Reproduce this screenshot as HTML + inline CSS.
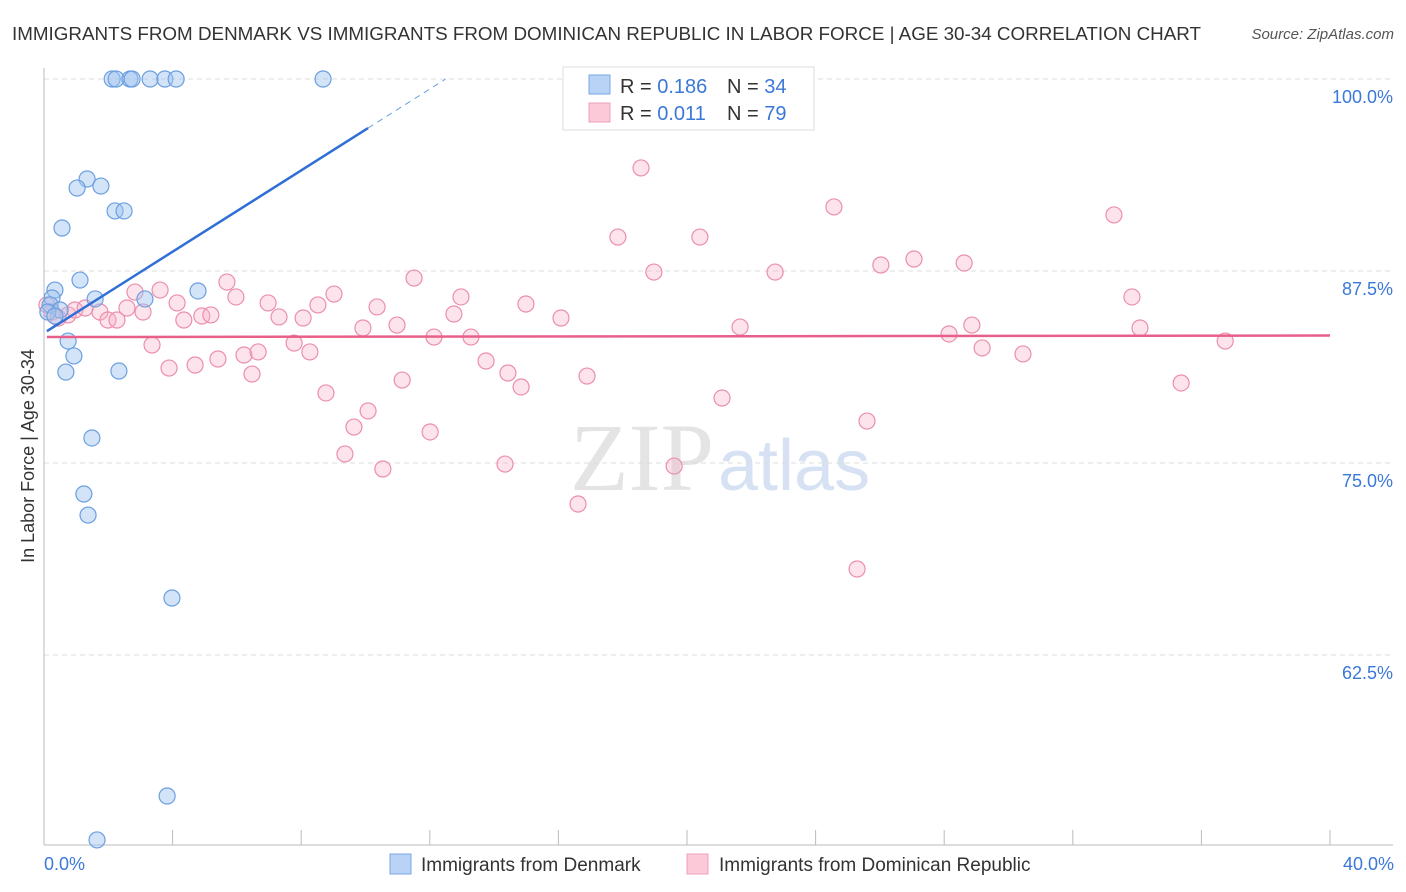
<!DOCTYPE html>
<html><head><meta charset="utf-8"><style>
body{margin:0;background:#fff;font-family:"Liberation Sans",sans-serif;}
svg{display:block}
</style></head><body>
<svg width="1406" height="892" xmlns="http://www.w3.org/2000/svg" id="chart">
<text x="12" y="40" font-size="18" fill="#333" textLength="1189" lengthAdjust="spacingAndGlyphs">IMMIGRANTS FROM DENMARK VS IMMIGRANTS FROM DOMINICAN REPUBLIC IN LABOR FORCE | AGE 30-34 CORRELATION CHART</text>
<text x="1394" y="39" font-size="15" fill="#555" font-style="italic" text-anchor="end">Source: ZipAtlas.com</text>
<text x="714" y="490" font-size="96" fill="#e4e4e4" text-anchor="end" font-family="Liberation Serif,serif">ZIP</text>
<text x="718" y="490" font-size="72" fill="#d6e2f3">atlas</text>
<g id="grid"></g><g id="axes"></g><g id="pts"></g><g id="trend"></g>
<text transform="translate(34,456) rotate(-90)" font-size="18" fill="#333" text-anchor="middle">In Labor Force | Age 30-34</text>
<text x="44" y="870" font-size="18" fill="#3b78d8">0.0%</text>
<text x="1394" y="870" font-size="18" fill="#3b78d8" text-anchor="end">40.0%</text>
<g>
<rect x="563" y="67" width="251" height="63" fill="#fff" stroke="#ddd"/>
<rect x="589" y="75" width="21" height="19" fill="#b8d3f5" stroke="#7aa8e6"/>
<rect x="589" y="103" width="21" height="19" fill="#fcc9d8" stroke="#eea0b8"/>
<text x="620" y="93" font-size="20" fill="#333">R = <tspan fill="#3b78d8">0.186</tspan></text>
<text x="727" y="93" font-size="20" fill="#333">N = <tspan fill="#3b78d8">34</tspan></text>
<text x="620" y="120" font-size="20" fill="#333">R = <tspan fill="#3b78d8">0.011</tspan></text>
<text x="727" y="120" font-size="20" fill="#333">N = <tspan fill="#3b78d8">79</tspan></text>
</g>
<g>
<rect x="390" y="854" width="21" height="20" fill="#b8d3f5" stroke="#7aa8e6"/>
<text x="421" y="871" font-size="19" fill="#333">Immigrants from Denmark</text>
<rect x="687" y="854" width="21" height="20" fill="#fcc9d8" stroke="#eea0b8"/>
<text x="719" y="871" font-size="19" fill="#333">Immigrants from Dominican Republic</text>
</g>
</svg>
<script>
const yTicks=[100,87.5,75,62.5];
const yTickLabels=["100.0%","87.5%","75.0%","62.5%"];
const blueX=[2.12,2.24,2.67,2.74,3.30,3.76,4.11,8.68,1.34,1.03,1.77,2.21,2.49,0.56,1.12,0.34,0.25,1.59,3.14,4.79,0.19,0.50,0.12,0.75,0.93,0.68,2.33,1.49,1.24,1.37,3.98,3.83,1.65,0.34];
const blueY=[100,100,100,100,100,100,100,100,93.49,92.9,93.03,91.41,91.41,90.3,86.91,86.26,85.74,85.68,85.68,86.2,85.29,84.96,84.83,82.94,81.97,80.92,80.99,76.63,72.98,71.61,66.21,53.32,50.46,84.57];
const pinkX=[0.09,0.25,0.44,0.75,0.96,1.28,1.74,1.99,2.27,2.58,2.83,3.08,3.36,3.61,3.89,4.14,4.35,4.70,4.91,5.19,5.41,5.69,5.97,6.22,6.47,6.66,6.97,7.31,7.78,8.06,8.27,8.52,8.77,9.02,9.36,9.64,9.92,10.08,10.36,10.54,10.98,11.14,11.51,12.01,12.13,12.97,12.75,13.28,13.75,14.34,14.43,14.84,14.99,16.08,16.61,16.89,17.85,18.57,18.97,19.60,20.40,21.09,21.65,22.74,24.57,25.29,25.60,26.03,27.06,28.15,28.62,28.86,29.18,30.45,33.28,33.84,34.09,35.37,36.74];
const pinkY=[85.29,84.83,84.44,84.64,84.96,85.09,84.83,84.31,84.31,85.09,86.13,84.83,82.68,86.26,81.18,85.42,84.31,81.38,84.57,84.64,81.77,86.78,85.81,82.03,80.79,82.23,85.42,84.51,82.81,84.44,82.23,85.29,79.56,86.0,75.59,77.34,83.79,78.39,85.16,74.61,83.98,80.40,87.04,77.02,83.2,85.81,84.7,83.2,81.64,74.93,80.86,79.95,85.35,84.44,72.33,80.66,89.71,94.21,87.43,74.8,89.71,79.23,83.85,87.43,91.67,68.1,77.73,87.89,88.28,83.4,88.02,83.98,82.49,82.1,91.15,85.81,83.79,80.21,82.94];
const blueTrend=[83.46,1.324];
const pinkTrend=[83.2,0.0025];
const NS="http://www.w3.org/2000/svg";
const sx=v=>44+v*32.15, sy=v=>79+(100-v)*15.36;
function mk(t,a,p){const e=document.createElementNS(NS,t);for(const k in a)e.setAttribute(k,a[k]);p.appendChild(e);return e;}
const grid=document.getElementById('grid'),axes=document.getElementById('axes'),pts=document.getElementById('pts'),tr=document.getElementById('trend');
yTicks.forEach((t,i)=>{
 const l=mk('line',{x1:44,x2:1393,y1:sy(t),y2:sy(t),stroke:'#ddd','stroke-dasharray':'5,4'},grid);
 
 
 const tx=mk('text',{x:1393,y:sy(t)+24,'font-size':18,fill:'#3b78d8','text-anchor':'end'},grid);
 tx.textContent=yTickLabels[i];
 
 
});
let a=mk('line',{x1:44,x2:44,y1:68,y2:845,stroke:'#bbb'},axes);


a=mk('line',{x1:44,x2:1393,y1:845,y2:845,stroke:'#bbb'},axes);


for(let i=0;i<=10;i++){const t=mk('line',{x1:sx(i*4),x2:sx(i*4),y1:830,y2:845,stroke:'#bbb'},axes);
 
 }
pinkX.forEach((x,i)=>{const c=mk('circle',{cx:sx(x),cy:sy(pinkY[i]),r:8,fill:'rgba(248,175,198,0.35)',stroke:'#eb8fac','stroke-width':1.2},pts);
 
 });
blueX.forEach((x,i)=>{const c=mk('circle',{cx:sx(x),cy:sy(blueY[i]),r:8,fill:'rgba(160,196,240,0.45)',stroke:'#6b9fe0','stroke-width':1.2},pts);
 
 });
const bf=x=>blueTrend[0]+blueTrend[1]*x, pf=x=>pinkTrend[0]+pinkTrend[1]*x;
let L=mk('line',{x1:sx(0.09),y1:sy(bf(0.09)),x2:sx(10.08),y2:sy(bf(10.08)),stroke:'#2f6fd6','stroke-width':2.5},tr);


const xe=(100-blueTrend[0])/blueTrend[1];
L=mk('line',{x1:sx(10.08),y1:sy(bf(10.08)),x2:sx(xe),y2:sy(bf(xe)),stroke:'#6b9fe0','stroke-width':1,'stroke-dasharray':'6,5'},tr);


L=mk('line',{x1:sx(0.09),y1:sy(pf(0.09)),x2:sx(40),y2:sy(pf(40)),stroke:'#e8608a','stroke-width':2.5},tr);


</script>
</body></html>
